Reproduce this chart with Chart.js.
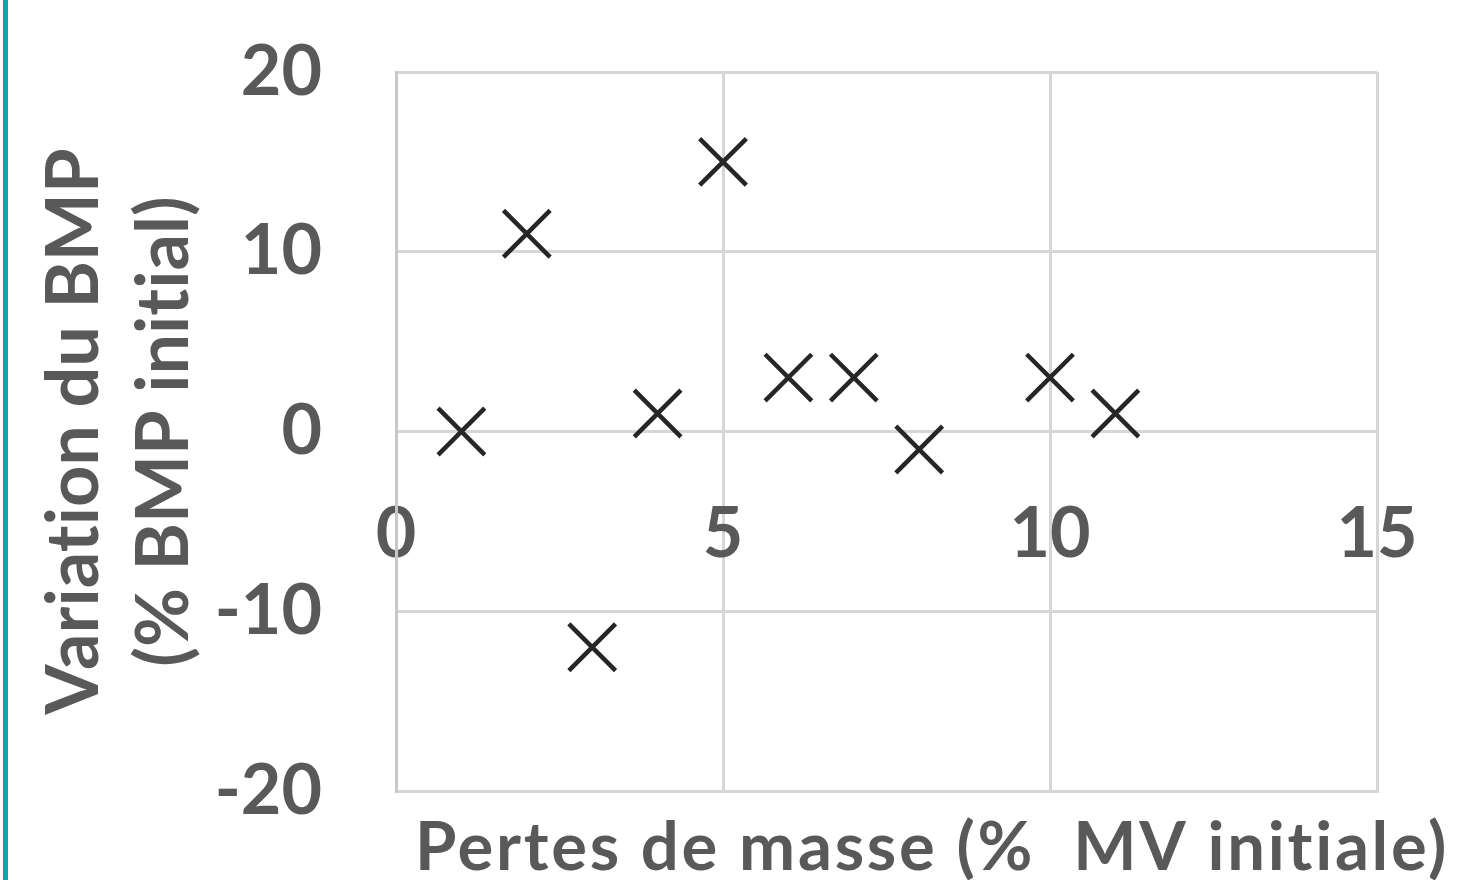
<!DOCTYPE html>
<html>
<head>
<meta charset="utf-8">
<script src="https://cdn.jsdelivr.net/npm/chart.js@4"></script>
<style>
  html, body { margin: 0; padding: 0; background: #fff; overflow: hidden; }
  #wrap { position: relative; width: 1463px; height: 880px; }
  #bar { position: absolute; left: 3px; top: 0; width: 5px; height: 880px; background: #10a6aa; }
  canvas { position: absolute; left: 0; top: 0; }
</style>
</head>
<body>
<div id="wrap">
  <canvas id="c" width="1463" height="880"></canvas>
  <div id="bar"></div>
</div>
<script>
// Data
const xValues = [1, 2, 3, 4, 5, 6, 7, 8, 10, 11];
const yValues = [0, 11, -12, 1, 15, 3, 3, -1, 3, 1];
const xTickLabels = ['0', '5', '10', '15'];
const yTickLabels = ['-20', '-10', '0', '10', '20'];
const xTitle = ' Pertes de masse (%  MV initiale)';
const yTitle = ['Variation du BMP', '(% BMP initial)'];

const points = xValues.map((x, i) => ({ x: x, y: yValues[i] }));
const FONT = 'Lato';
const TXT = '#595959';
const GRID = '#d6d6d6';
const X_TITLE_SIZE = 67;
const X_TITLE_TARGET_W = 1054; // from plot left edge to title end in the reference

// letter spacing that makes the title span the same width as in the reference
const xTitleSpacing = (() => {
  const m = document.createElement('canvas').getContext('2d');
  m.font = 'bold ' + X_TITLE_SIZE + 'px ' + FONT;
  const w = m.measureText(xTitle).width;
  return Math.max(0, (X_TITLE_TARGET_W - w) / xTitle.length);
})();

function zeroPad(s) { s.paddingTop = 0; s.paddingBottom = 0; s.paddingLeft = 0; s.paddingRight = 0; }

const noLigatures = {
  id: 'noLigatures',
  beforeInit(chart) { try { chart.ctx.letterSpacing = '0.01px'; } catch (e) {} },
  beforeDraw(chart) { try { chart.ctx.letterSpacing = '0.01px'; } catch (e) {} }
};

// let the x-axis title run past the plot's right edge (as in the reference)
function wideTitle(s) {
  if (s._wide) return;
  const orig = s.drawTitle.bind(s);
  s.drawTitle = function () {
    const ctx = this.ctx;
    const r = this.right;
    const prev = ctx.letterSpacing;
    this.right = r + 300;
    try { ctx.letterSpacing = (xTitleSpacing + 0.01).toFixed(2) + 'px'; } catch (e) {}
    orig();
    try { ctx.letterSpacing = prev; } catch (e) {}
    this.right = r;
  };
  s._wide = true;
}

new Chart(document.getElementById('c'), {
  type: 'scatter',
  plugins: [noLigatures],
  data: {
    datasets: [{
      data: points,
      pointStyle: 'crossRot',
      pointRadius: 33,
      pointHoverRadius: 33,
      borderColor: '#262626',
      backgroundColor: '#262626',
      pointBorderWidth: 4.5,
      pointHoverBorderWidth: 4.5
    }]
  },
  options: {
    responsive: false,
    animation: false,
    devicePixelRatio: 1,
    layout: { padding: { left: 0, right: 86, top: 72, bottom: 0 } },
    plugins: { legend: { display: false }, tooltip: { enabled: false } },
    scales: {
      x: {
        type: 'linear', position: 'bottom', min: 0, max: 15,
        afterFit: s => { s.height = 89; zeroPad(s); wideTitle(s); },
        ticks: { display: false, stepSize: 5 },
        grid: { color: GRID, lineWidth: 3, drawTicks: false },
        border: { color: GRID, width: 3 },
        title: {
          display: true, text: xTitle, align: 'start', color: TXT,
          font: { family: FONT, weight: 'bold', size: X_TITLE_SIZE, lineHeight: 0.955 },
          padding: 0
        }
      },
      x2: {
        type: 'linear', position: { y: 0 }, min: 0, max: 15,
        afterFit: s => { s.height = 0; zeroPad(s); },
        afterBuildTicks: s => { s.ticks = xTickLabels.map(v => ({ value: Number(v) })); },
        ticks: {
          padding: 61, color: TXT, maxRotation: 0,
          font: { family: FONT, weight: 'bold', size: 70 },
          callback: (v, i) => xTickLabels[i]
        },
        grid: { display: false, drawTicks: false },
        border: { display: false }
      },
      y: {
        type: 'linear', position: 'left', min: -20, max: 20,
        afterFit: s => { s.width = 396; zeroPad(s); },
        afterBuildTicks: s => { s.ticks = yTickLabels.map(v => ({ value: Number(v) })); },
        ticks: {
          padding: 74, color: TXT,
          font: { family: FONT, weight: 'bold', size: 70 },
          callback: (v, i) => yTickLabels[i]
        },
        grid: { color: GRID, lineWidth: 3, drawTicks: false },
        border: { color: '#c8c8c8', width: 3 },
        title: {
          display: true, text: yTitle, color: TXT,
          font: { family: FONT, weight: 'bold', size: 72, lineHeight: 1.25 },
          padding: { top: 30, bottom: 0 }
        }
      }
    }
  }
});
</script>
</body>
</html>
